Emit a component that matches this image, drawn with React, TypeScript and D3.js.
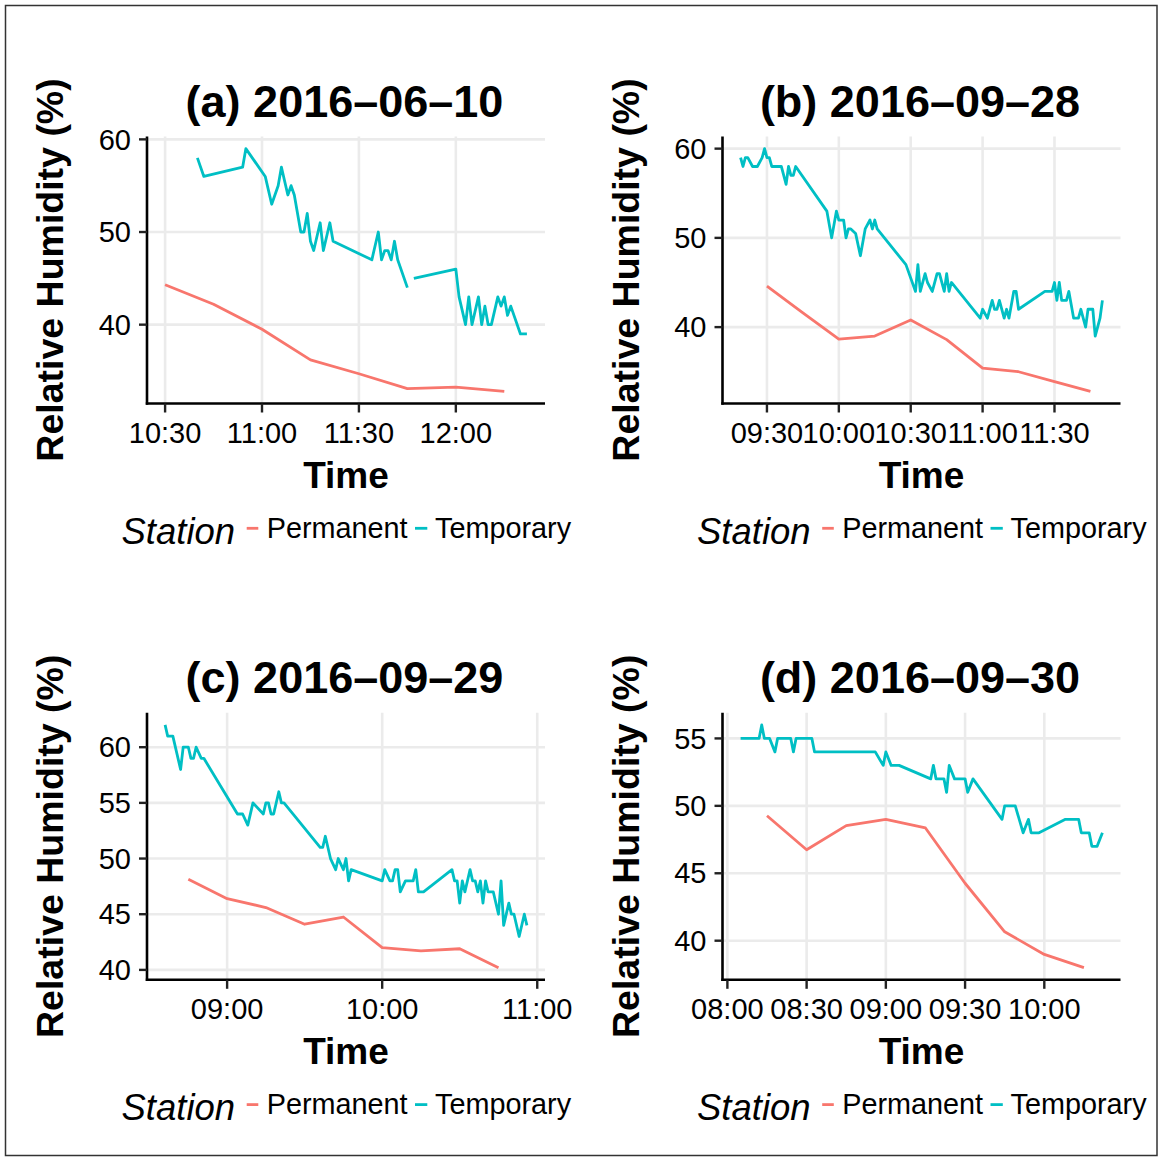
import React from "react";
import * as d3 from "d3";

// ---------- DATA ----------
const aPermTime = ["10:30", "10:45", "11:00", "11:15", "11:30", "11:45", "12:00", "12:15"];
const aPermRH = [44.3, 42.2, 39.5, 36.2, 34.7, 33.1, 33.25, 32.8];
const aTempTime = ["10:40", "10:42", "10:54", "10:55", "11:01", "11:03", "11:05", "11:06", "11:08", "11:09", "11:10", "11:12", "11:13", "11:14", "11:15", "11:16", "11:18", "11:19", "11:21", "11:22", "11:34", "11:36", "11:37", "11:38", "11:39", "11:40", "11:41", "11:42", "11:45", "11:46", "11:47", "12:00", "12:01", "12:03", "12:04", "12:05", "12:07", "12:08", "12:09", "12:10", "12:11", "12:13", "12:14", "12:15", "12:16", "12:17", "12:20", "12:22"];
const aTempRH: (number | null)[] = [58, 56, 57, 59, 56, 53, 55, 57, 54, 55, 54, 50, 50, 52, 49, 48, 51, 48, 51, 49, 47, 50, 47, 48, 48, 47, 49, 47, 44, null, 45, 46, 43, 40, 43, 40, 43, 40, 42, 40, 40, 43, 42, 43, 41, 42, 39, 39];
const aXTicks = ["10:30", "11:00", "11:30", "12:00"];
const aYTicks = [40, 50, 60];

const bPermTime = ["09:30", "09:45", "10:00", "10:15", "10:30", "10:45", "11:00", "11:15", "11:30", "11:45"];
const bPermRH = [44.6, 41.6, 38.65, 39.0, 40.8, 38.6, 35.4, 35.0, 33.9, 32.8];
const bTempTime = ["09:19", "09:20", "09:21", "09:22", "09:24", "09:26", "09:28", "09:29", "09:30", "09:31", "09:32", "09:36", "09:38", "09:39", "09:40", "09:41", "09:42", "09:55", "09:57", "09:59", "10:00", "10:02", "10:03", "10:04", "10:05", "10:07", "10:09", "10:11", "10:13", "10:14", "10:15", "10:16", "10:28", "10:32", "10:33", "10:34", "10:36", "10:37", "10:39", "10:41", "10:42", "10:44", "10:45", "10:46", "10:47", "10:59", "11:00", "11:02", "11:04", "11:05", "11:06", "11:07", "11:09", "11:10", "11:11", "11:13", "11:14", "11:15", "11:26", "11:29", "11:30", "11:31", "11:32", "11:33", "11:35", "11:36", "11:38", "11:40", "11:41", "11:43", "11:44", "11:46", "11:47", "11:49", "11:50"];
const bTempRH: (number | null)[] = [59, 58, 59, 59, 58, 58, 59, 60, 59, 59, 58, 58, 56, 58, 57, 57, 58, 53, 50, 53, 52, 52, 50, 51, 51, 50.5, 48, 51, 52, 51, 52, 51, 47, 44, 47, 44, 46, 45, 44, 46, 46, 44, 46, 44, 45, 41, 42, 41, 43, 42, 42, 43, 41, 42, 41, 44, 44, 42, 44, 44, 45, 43, 45, 43, 43, 44, 41, 41, 42, 40, 42, 42, 39, 41, 43];
const bXTicks = ["09:30", "10:00", "10:30", "11:00", "11:30"];
const bYTicks = [40, 50, 60];

const cPermTime = ["08:45", "09:00", "09:15", "09:30", "09:45", "10:00", "10:15", "10:30", "10:45"];
const cPermRH = [48.15, 46.4, 45.6, 44.1, 44.75, 42.0, 41.7, 41.9, 40.2];
const cTempTime = ["08:36", "08:37", "08:39", "08:42", "08:43", "08:45", "08:46", "08:47", "08:48", "08:50", "08:51", "09:04", "09:06", "09:08", "09:10", "09:14", "09:15", "09:16", "09:17", "09:18", "09:20", "09:21", "09:22", "09:36", "09:37", "09:38", "09:40", "09:42", "09:43", "09:45", "09:46", "09:47", "09:48", "10:00", "10:01", "10:03", "10:04", "10:05", "10:06", "10:07", "10:09", "10:12", "10:13", "10:14", "10:16", "10:27", "10:28", "10:29", "10:30", "10:31", "10:32", "10:34", "10:35", "10:36", "10:37", "10:38", "10:39", "10:40", "10:41", "10:43", "10:45", "10:46", "10:47", "10:49", "10:50", "10:51", "10:53", "10:55", "10:56"];
const cTempRH: (number | null)[] = [62, 61, 61, 58, 60, 60, 59, 59, 60, 59, 59, 54, 54, 53, 55, 54, 55, 55, 54, 54, 56, 55, 55, 51, 51, 52, 50, 49, 50, 49, 50, 48, 49, 48, 49, 48, 48, 49, 49, 47, 48, 48, 49, 47, 47, 49, 48, 48, 46, 48, 47, 49, 48, 48, 47, 48, 46, 48, 47, 47, 45, 48, 44, 46, 45, 45, 43, 45, 44];
const cXTicks = ["09:00", "10:00", "11:00"];
const cYTicks = [40, 45, 50, 55, 60];

const dPermTime = ["08:15", "08:30", "08:45", "09:00", "09:15", "09:30", "09:45", "10:00", "10:15"];
const dPermRH = [49.27, 46.74, 48.53, 49.0, 48.36, 44.26, 40.66, 38.98, 38.0];
const dTempTime = ["08:05", "08:12", "08:13", "08:14", "08:16", "08:18", "08:19", "08:24", "08:25", "08:26", "08:32", "08:33", "08:56", "08:59", "09:00", "09:02", "09:05", "09:17", "09:18", "09:19", "09:22", "09:23", "09:24", "09:26", "09:30", "09:31", "09:33", "09:44", "09:45", "09:49", "09:52", "09:54", "09:55", "09:58", "10:08", "10:13", "10:14", "10:17", "10:18", "10:20", "10:22"];
const dTempRH: (number | null)[] = [55, 55, 56, 55, 55, 54, 55, 55, 54, 55, 55, 54, 54, 53, 54, 53, 53, 52, 53, 52, 52, 51, 53, 52, 52, 51, 52, 49, 50, 50, 48, 49, 48, 48, 49, 49, 48, 48, 47, 47, 48];
const dXTicks = ["08:00", "08:30", "09:00", "09:30", "10:00"];
const dYTicks = [40, 45, 50, 55];

const titles = ["(a) 2016\u201306\u201310", "(b) 2016\u201309\u201328", "(c) 2016\u201309\u201329", "(d) 2016\u201309\u201330"];
const seriesNames = ["Permanent", "Temporary"];
const colors = ["#F8766D", "#00BFC4"];

// ---------- LAYOUT ----------
const FONT = "'Liberation Sans', Arial, Helvetica, sans-serif";
const PW = 398;
const PH = 267;
const origins: [number, number][] = [
  [147, 136.5],
  [722.5, 136.5],
  [147, 712.8],
  [722.5, 712.8],
];

const parseT = d3.timeParse("%H:%M");
const fmtT = d3.timeFormat("%H:%M");

type PanelDef = {
  title: string;
  permTime: string[];
  permRH: (number | null)[];
  tempTime: string[];
  tempRH: (number | null)[];
  xTicks: string[];
  yTicks: number[];
};

const panels: PanelDef[] = [
  { title: titles[0], permTime: aPermTime, permRH: aPermRH, tempTime: aTempTime, tempRH: aTempRH, xTicks: aXTicks, yTicks: aYTicks },
  { title: titles[1], permTime: bPermTime, permRH: bPermRH, tempTime: bTempTime, tempRH: bTempRH, xTicks: bXTicks, yTicks: bYTicks },
  { title: titles[2], permTime: cPermTime, permRH: cPermRH, tempTime: cTempTime, tempRH: cTempRH, xTicks: cXTicks, yTicks: cYTicks },
  { title: titles[3], permTime: dPermTime, permRH: dPermRH, tempTime: dTempTime, tempRH: dTempRH, xTicks: dXTicks, yTicks: dYTicks },
];

function expand(ext: [number, number], f = 0.05): [number, number] {
  const s = ext[1] - ext[0];
  return [ext[0] - s * f, ext[1] + s * f];
}

function Panel({ p, L, T }: { p: PanelDef; L: number; T: number }) {
  const perm = p.permTime.map((t, i) => ({ t: parseT(t)!, v: p.permRH[i] }));
  const temp = p.tempTime.map((t, i) => ({ t: parseT(t)!, v: p.tempRH[i] }));
  const all = [...perm, ...temp];
  const tExt = d3.extent(all, (d) => +d.t) as [number, number];
  const vExt = d3.extent(all.filter((d) => d.v != null), (d) => d.v as number) as [number, number];
  const [t0, t1] = expand(tExt);
  const x = d3.scaleTime().domain([new Date(t0), new Date(t1)]).range([L, L + PW]);
  const y = d3.scaleLinear().domain(expand(vExt)).range([T + PH, T]);
  const line = d3
    .line<{ t: Date; v: number | null }>()
    .defined((d) => d.v != null)
    .x((d) => x(d.t))
    .y((d) => y(d.v as number));
  const B = T + PH;
  const cx = L + PW / 2;
  const xt = p.xTicks.map((s) => parseT(s)!);
  return (
    <g>
      {/* gridlines */}
      {p.yTicks.map((v) => (
        <line key={"gy" + v} x1={L} x2={L + PW} y1={y(v)} y2={y(v)} stroke="#EBEBEB" strokeWidth={2.6} />
      ))}
      {xt.map((d, i) => (
        <line key={"gx" + i} x1={x(d)} x2={x(d)} y1={T} y2={B} stroke="#EBEBEB" strokeWidth={2.6} />
      ))}
      {/* lines */}
      <path d={line(perm) || ""} fill="none" stroke={colors[0]} strokeWidth={2.8} strokeLinejoin="round" />
      <path d={line(temp) || ""} fill="none" stroke={colors[1]} strokeWidth={2.8} strokeLinejoin="round" />
      {/* axes */}
      <line x1={L} x2={L} y1={T} y2={B + 1.2} stroke="#000" strokeWidth={2.6} />
      <line x1={L - 1.2} x2={L + PW} y1={B} y2={B} stroke="#000" strokeWidth={2.6} />
      {p.yTicks.map((v) => (
        <g key={"ty" + v}>
          <line x1={L - 8} x2={L} y1={y(v)} y2={y(v)} stroke="#222" strokeWidth={2.4} />
          <text x={L - 16} y={y(v)} dy="0.35em" textAnchor="end" fontSize={29} fontFamily={FONT} fill="#000">
            {v}
          </text>
        </g>
      ))}
      {xt.map((d, i) => (
        <g key={"tx" + i}>
          <line x1={x(d)} x2={x(d)} y1={B} y2={B + 9} stroke="#222" strokeWidth={2.4} />
          <text x={x(d)} y={B + 39.5} textAnchor="middle" fontSize={29} fontFamily={FONT} fill="#000">
            {fmtT(d)}
          </text>
        </g>
      ))}
      {/* titles */}
      <text x={cx - 1.5} y={T - 19.5} textAnchor="middle" fontSize={45} fontWeight="bold" fontFamily={FONT} fill="#000">
        {p.title}
      </text>
      <text x={cx} y={B + 84} textAnchor="middle" fontSize={37} fontWeight="bold" fontFamily={FONT} fill="#000">
        Time
      </text>
      <text
        transform={`translate(${L - 84},${T + PH / 2}) rotate(-90)`}
        textAnchor="middle"
        fontSize={37.5}
        fontWeight="bold"
        fontFamily={FONT}
        fill="#000"
      >
        Relative Humidity (%)
      </text>
      {/* legend */}
      <text x={cx - 224.5} y={B + 140} fontSize={36.5} fontStyle="italic" fontFamily={FONT} fill="#000">
        Station
      </text>
      <line x1={cx - 99.3} x2={cx - 87.7} y1={B + 124.8} y2={B + 124.8} stroke={colors[0]} strokeWidth={2.8} />
      <text x={cx - 79.3} y={B + 134.4} fontSize={28.8} fontFamily={FONT} fill="#000">
        {seriesNames[0]}
      </text>
      <line x1={cx + 69} x2={cx + 81.3} y1={B + 124.8} y2={B + 124.8} stroke={colors[1]} strokeWidth={2.8} />
      <text x={cx + 89} y={B + 134.4} fontSize={28.8} fontFamily={FONT} fill="#000">
        {seriesNames[1]}
      </text>
    </g>
  );
}

export default function App() {
  return (
    <svg
      width={1159}
      height={1157}
      style={{ position: "absolute", left: 0, top: 0, background: "#fff" }}
    >
      <rect x={0} y={0} width={1159} height={1157} fill="#fff" />
      <rect x={5.5} y={5.5} width={1151.5} height={1150} fill="none" stroke="#333" strokeWidth={1.5} />
      {panels.map((p, i) => (
        <Panel key={i} p={p} L={origins[i][0]} T={origins[i][1]} />
      ))}
    </svg>
  );
}
